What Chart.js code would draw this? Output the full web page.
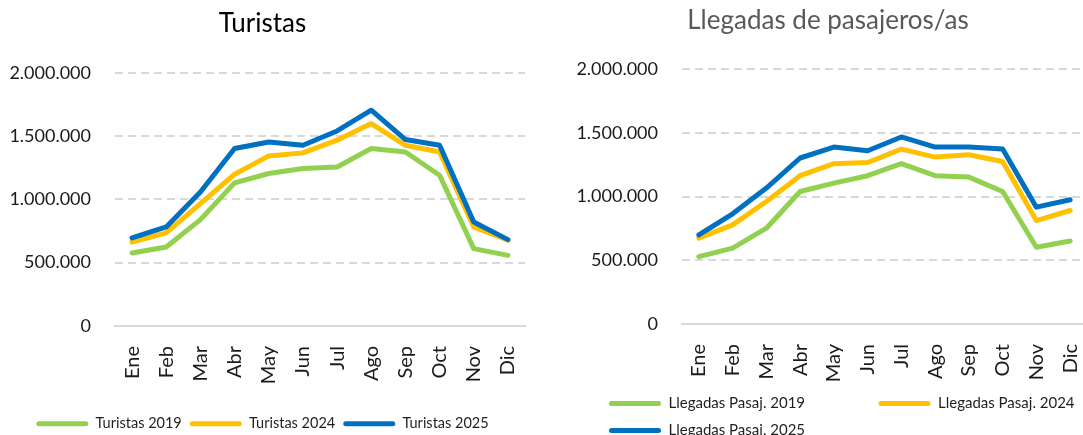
<!DOCTYPE html>
<html><head><meta charset="utf-8">
<script src="https://cdn.jsdelivr.net/npm/chart.js@4"></script>
<style>
html,body{margin:0;padding:0;background:#fff}
body{width:1083px;height:435px;overflow:hidden;position:relative}
#w1{position:absolute;left:0;top:0;width:540px;height:435px;overflow:hidden}
#w2{position:absolute;left:543px;top:0;width:540px;height:435px;overflow:hidden}
</style></head><body>
<div id="w1"><canvas id="c1" width="528" height="441"></canvas></div>
<div id="w2"><canvas id="c2" width="544" height="448"></canvas></div>
<script>
const months = ['Ene','Feb','Mar','Abr','May','Jun','Jul','Ago','Sep','Oct','Nov','Dic'];
const yTickValues = [0, 500000, 1000000, 1500000, 2000000];

const turistas2019 = [577000, 624000, 840000, 1130000, 1204000, 1243000, 1256000, 1401000, 1374000, 1190000, 611000, 558000];
const turistas2024 = [663000, 735000, 967000, 1198000, 1343000, 1367000, 1467000, 1598000, 1427000, 1374000, 782000, 677000];
const turistas2025 = [695000, 782000, 1058000, 1401000, 1453000, 1427000, 1540000, 1704000, 1472000, 1427000, 821000, 682000];

const pasaj2019 = [529000, 595000, 752000, 1040000, 1106000, 1164000, 1258000, 1164000, 1153000, 1040000, 603000, 652000];
const pasaj2024 = [674000, 778000, 962000, 1164000, 1258000, 1268000, 1373000, 1310000, 1329000, 1276000, 812000, 891000];
const pasaj2025 = [700000, 865000, 1067000, 1303000, 1389000, 1360000, 1468000, 1389000, 1389000, 1373000, 917000, 975000];

const namesT = ['Turistas 2019', 'Turistas 2024', 'Turistas 2025'];
const namesP = ['Llegadas Pasaj. 2019', 'Llegadas Pasaj. 2024', 'Llegadas Pasaj. 2025'];
const colors = ['#92D050', '#FFC000', '#0070C0'];

Chart.defaults.font.family = 'Lato, "Noto Sans", sans-serif';

function fmt(v){ return String(v).replace(/\B(?=(\d{3})+(?!\d))/g, '.'); }

function makeDatasets(names, series){
  return names.map((n, i) => ({
    label: n, data: series[i],
    borderColor: colors[i], backgroundColor: colors[i],
    borderWidth: 5, pointRadius: 0, pointHoverRadius: 0, tension: 0,
    borderJoinStyle: 'round', borderCapStyle: 'round',
    order: 3 - i
  }));
}

function makeOptions(cfg){
  return {
    responsive: false, animation: false,
    layout: { padding: { left: cfg.padLeft, right: cfg.padRight, top: 0, bottom: 0 } },
    plugins: {
      title: { display: true, text: cfg.title, color: cfg.titleColor,
        font: { size: 26, weight: 'normal' }, padding: { top: cfg.tTop, bottom: cfg.tBottom } },
      legend: { position: 'bottom', align: cfg.legendAlign,
        labels: { boxWidth: 52, boxHeight: 5, padding: cfg.legPad, color: '#1f1f1f', font: { size: cfg.legFont },
          sort: (a, b) => a.datasetIndex - b.datasetIndex,
          generateLabels: chart => Chart.defaults.plugins.legend.labels.generateLabels(chart).map(it => ({
            ...it, fillStyle: it.strokeStyle, lineWidth: 0, borderRadius: 2.5,
            text: it.text + (cfg.textPad[it.datasetIndex] || '')
          }))
        } },
      tooltip: { enabled: false }
    },
    scales: {
      x: {
        offset: true,
        grid: { display: false },
        border: { display: true, color: '#D9D9D9', width: 2 },
        ticks: { color: '#1a1a1a', font: { size: 20 }, minRotation: 90, maxRotation: 90, padding: 12, autoSkip: false },
        afterFit: s => { s.height = cfg.xH; s.paddingLeft = 0; s.paddingRight = 0; }
      },
      y: {
        min: 0, max: 2000000,
        grid: { color: '#D9D9D9', lineWidth: 2, drawTicks: false },
        border: { display: false, dash: [8, 5] },
        ticks: { color: '#1a1a1a', font: { size: 18 }, padding: 24, callback: v => fmt(v) },
        afterBuildTicks: s => { s.ticks = yTickValues.map(v => ({ value: v })); },
        afterFit: s => { s.width = cfg.yW; }
      }
    }
  };
}

new Chart(document.getElementById('c1'), {
  type: 'line',
  data: { labels: months, datasets: makeDatasets(namesT, [turistas2019, turistas2024, turistas2025]) },
  options: makeOptions({ title: 'Turistas', titleColor: '#000000', tTop: 8, tBottom: 33.5,
    padLeft: 0, padRight: 3, xH: 82.5, yW: 115, legendAlign: 'center', legPad: 8, legFont: 14.5, textPad: [] })
});

const legendShift = { id: 'legendShift', afterLayout(chart){ const l = chart.legend; if (l) { l.left += 28; l.right += 28; } } };

new Chart(document.getElementById('c2'), {
  type: 'line',
  data: { labels: months, datasets: makeDatasets(namesP, [pasaj2019, pasaj2024, pasaj2025]) },
  options: makeOptions({ title: 'Llegadas de pasajeros/as', titleColor: '#595959', tTop: 5, tBottom: 33,
    padLeft: 26, padRight: 0, xH: 60, yW: 113, legendAlign: 'start', legPad: 12, legFont: 15, textPad: ['                '] }),
  plugins: [legendShift]
});
</script>
</body></html>
